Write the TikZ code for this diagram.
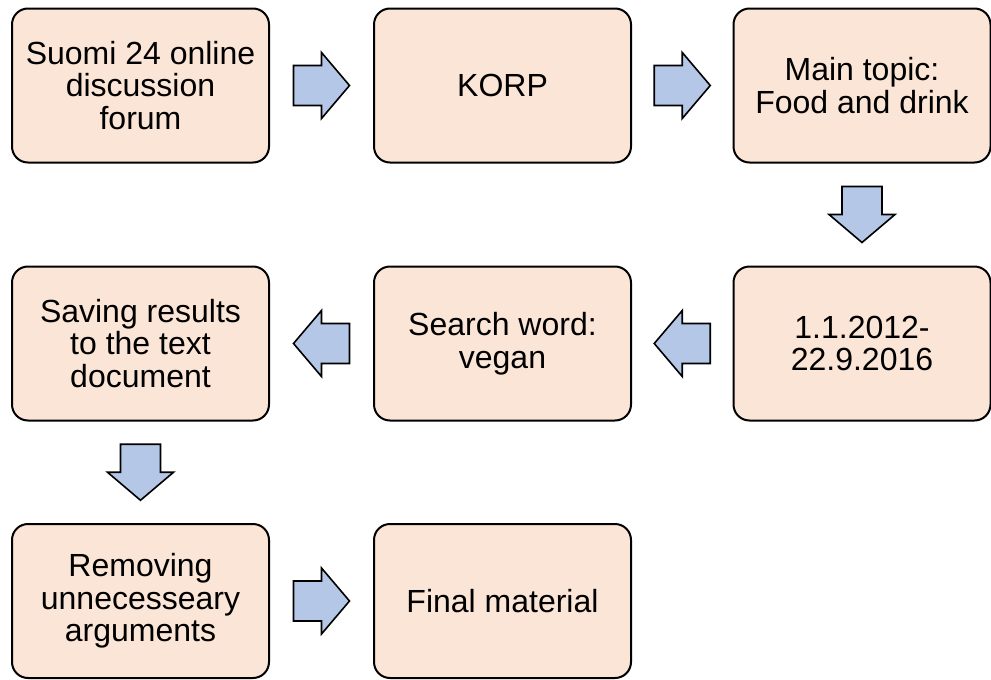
\documentclass[tikz,border=0pt]{standalone}
\usepackage{fontspec}
\setmainfont{Liberation Sans}
\usetikzlibrary{calc}
\definecolor{boxfill}{HTML}{FBE5D6}
\definecolor{arrfill}{HTML}{B4C7E7}
\begin{document}
\begin{tikzpicture}[x=1pt,y=-1pt,
  stepbox/.style={draw=black, line width=2pt, fill=boxfill, rounded corners=16pt,
    minimum width=257pt, minimum height=154pt, align=center, inner sep=0pt,
    font=\fontsize{32}{32.5}\selectfont},
  barrow/.pic={\draw[line width=1.6pt, fill=arrfill, line join=miter]
    (-28,-20) -- (0,-20) -- (0,-33) -- (28,0) -- (0,33) -- (0,20) -- (-28,20) -- cycle;}]
\useasboundingbox (0,0) rectangle (991,680);
\node[stepbox] (a) at (140.5,85.5) {Suomi 24 online\\discussion\\forum};
\node[stepbox] (b) at (502.5,85.5) {KORP};
\node[stepbox] (c) at (862,85.5) {Main topic:\\Food and drink};
\node[stepbox] (d) at (862,343.5) {1.1.2012-\\22.9.2016};
\node[stepbox] (e) at (502.5,343.5) {Search word:\\vegan};
\node[stepbox] (f) at (140.5,343.5) {Saving results\\to the text\\document};
\node[stepbox] (g) at (140.5,601) {Removing\\unnecesseary\\arguments};
\node[stepbox] (h) at (502.5,601) {Final material};
\pic at ($(a.east)!0.5!(b.west)$) {barrow};
\pic at ($(b.east)!0.5!(c.west)$) {barrow};
\pic[rotate=-90] at ($(c.south)!0.5!(d.north)$) {barrow};
\pic[rotate=180] at ($(d.west)!0.5!(e.east)$) {barrow};
\pic[rotate=180] at ($(e.west)!0.5!(f.east)$) {barrow};
\pic[rotate=-90] at ($(f.south)!0.5!(g.north)$) {barrow};
\pic at ($(g.east)!0.5!(h.west)$) {barrow};
\end{tikzpicture}
\end{document}
